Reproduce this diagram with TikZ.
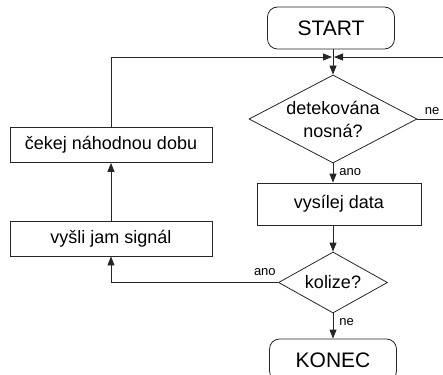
\documentclass[tikz,border=0pt]{standalone}
\usepackage{fontspec}
\setmainfont{Liberation Sans}
\usetikzlibrary{shapes.geometric, arrows.meta}
\tikzset{box/.style={draw=black!85, line width=0.8pt, minimum width=#1, minimum height=35pt, inner sep=0pt, font=\fontsize{18}{23}\selectfont}}
\tikzset{terminal/.style={draw=black!85, line width=0.8pt, rounded corners=10pt, minimum width=127pt, minimum height=42pt, inner sep=0pt, font=\fontsize{21}{25}\selectfont}}
\tikzset{decision/.style={draw=black!85, line width=0.8pt, diamond, inner sep=0pt, align=center, font=\fontsize{18}{23}\selectfont}}
\tikzset{flow/.style={draw=black!85, line width=0.8pt, -{Triangle[length=9pt, width=7pt]}}}
\tikzset{answer/.style={font=\fontsize{13}{15}\selectfont, inner sep=2pt}}

\begin{document}
\begin{tikzpicture}[x=1pt, y=-1pt]
            \useasboundingbox (0, 0) rectangle (443, 374);
            \clip (0, 0) rectangle (443, 374);
            \node[terminal] (start) at (331, 28) {START};
            \node[decision, minimum width=168pt, minimum height=88pt, aspect=1.91] (carrier) at (333, 119) {detekována\\nosná?};
            \node[box=164pt, minimum height=42pt] (send) at (339, 204) {vysílej data};
            \node[decision, minimum width=109pt, minimum height=61pt, aspect=1.79] (collision) at (333, 282.5) {kolize?};
            \node[terminal] (end) at (333, 360) {KONEC};
            \node[box=202pt] (jam) at (111, 238.5) {vyšli jam signál};
            \node[box=202pt] (wait) at (111, 145) {čekej náhodnou dobu};
            \coordinate (join) at (333, 57);
            \coordinate (edge) at (452, 57);
            \draw[flow] (start.south -| carrier.north) -- (carrier.north);
            \draw[flow] (carrier.south) -- (carrier.south |- send.north)
                node [answer, pos=0, anchor=north west, xshift=4pt, yshift=-3pt] {ano};
            \draw[flow] (send.south -| collision.north) -- (collision.north);
            \draw[flow] (collision.south) -- (end.north)
                node [answer, pos=0, anchor=north west, xshift=4pt, yshift=-3pt] {ne};
            \draw[flow] (collision.west) -- (collision.west -| jam.south)
                node [answer, pos=0, anchor=south east, yshift=4pt] {ano} -- (jam.south);
            \draw[flow] (jam.north) -- (wait.south);
            \draw[flow, shorten >=1pt] (wait.north) |- (join);
            \draw[flow, shorten >=1pt] (carrier.east) -- (carrier.east -| edge)
                node [answer, pos=0, anchor=south west, xshift=5pt, yshift=2pt] {ne} -- (edge) -- (join);
        \end{tikzpicture}
\end{document}
